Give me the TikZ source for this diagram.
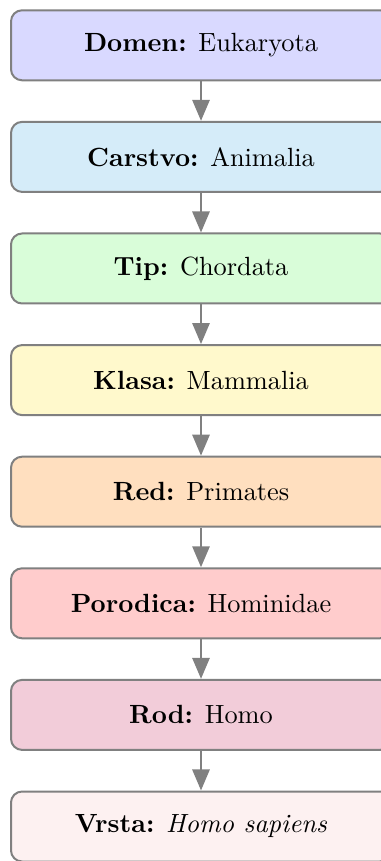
\documentclass[tikz,border=0pt]{standalone}
\usetikzlibrary{arrows.meta}
\definecolor{cDomen}{HTML}{D9D9FF}
\definecolor{cCarstvo}{HTML}{D5ECF9}
\definecolor{cTip}{HTML}{D9FDD9}
\definecolor{cKlasa}{HTML}{FFF9CC}
\definecolor{cRed}{HTML}{FFDFBF}
\definecolor{cPorodica}{HTML}{FFCCCC}
\definecolor{cRod}{HTML}{F2CCD9}
\definecolor{cVrsta}{HTML}{FDF1F1}
\begin{document}
\begin{tikzpicture}[x=0.38pt,y=-0.38pt,
  rankbox/.style={draw=black!50, line width=0.76pt, rounded corners=4.2pt,
    minimum width=144.4pt, minimum height=26.6pt, inner sep=0pt},
  conn/.style={draw=black!50, line width=1pt,
    -{Triangle[width=6.5pt,length=8pt]}}]
  \useasboundingbox (0,0) rectangle (381,861);

  \node[rankbox, fill=cDomen]    (b1) at (201,45.3)  {\textbf{Domen:} Eukaryota};
  \node[rankbox, fill=cCarstvo]  (b2) at (201,156.9) {\textbf{Carstvo:} Animalia};
  \node[rankbox, fill=cTip]      (b3) at (201,268.5) {\textbf{Tip:} Chordata};
  \node[rankbox, fill=cKlasa]    (b4) at (201,380.1) {\textbf{Klasa:} Mammalia};
  \node[rankbox, fill=cRed]      (b5) at (201,491.7) {\textbf{Red:} Primates};
  \node[rankbox, fill=cPorodica] (b6) at (201,603.3) {\textbf{Porodica:} Hominidae};
  \node[rankbox, fill=cRod]      (b7) at (201,714.9) {\textbf{Rod:} Homo};
  \node[rankbox, fill=cVrsta]    (b8) at (201,826.5) {\textbf{Vrsta:} \textit{Homo sapiens}};

  \foreach \i/\j in {1/2,2/3,3/4,4/5,5/6,6/7,7/8}
    \draw[conn] (b\i) -- (b\j);
\end{tikzpicture}
\end{document}
